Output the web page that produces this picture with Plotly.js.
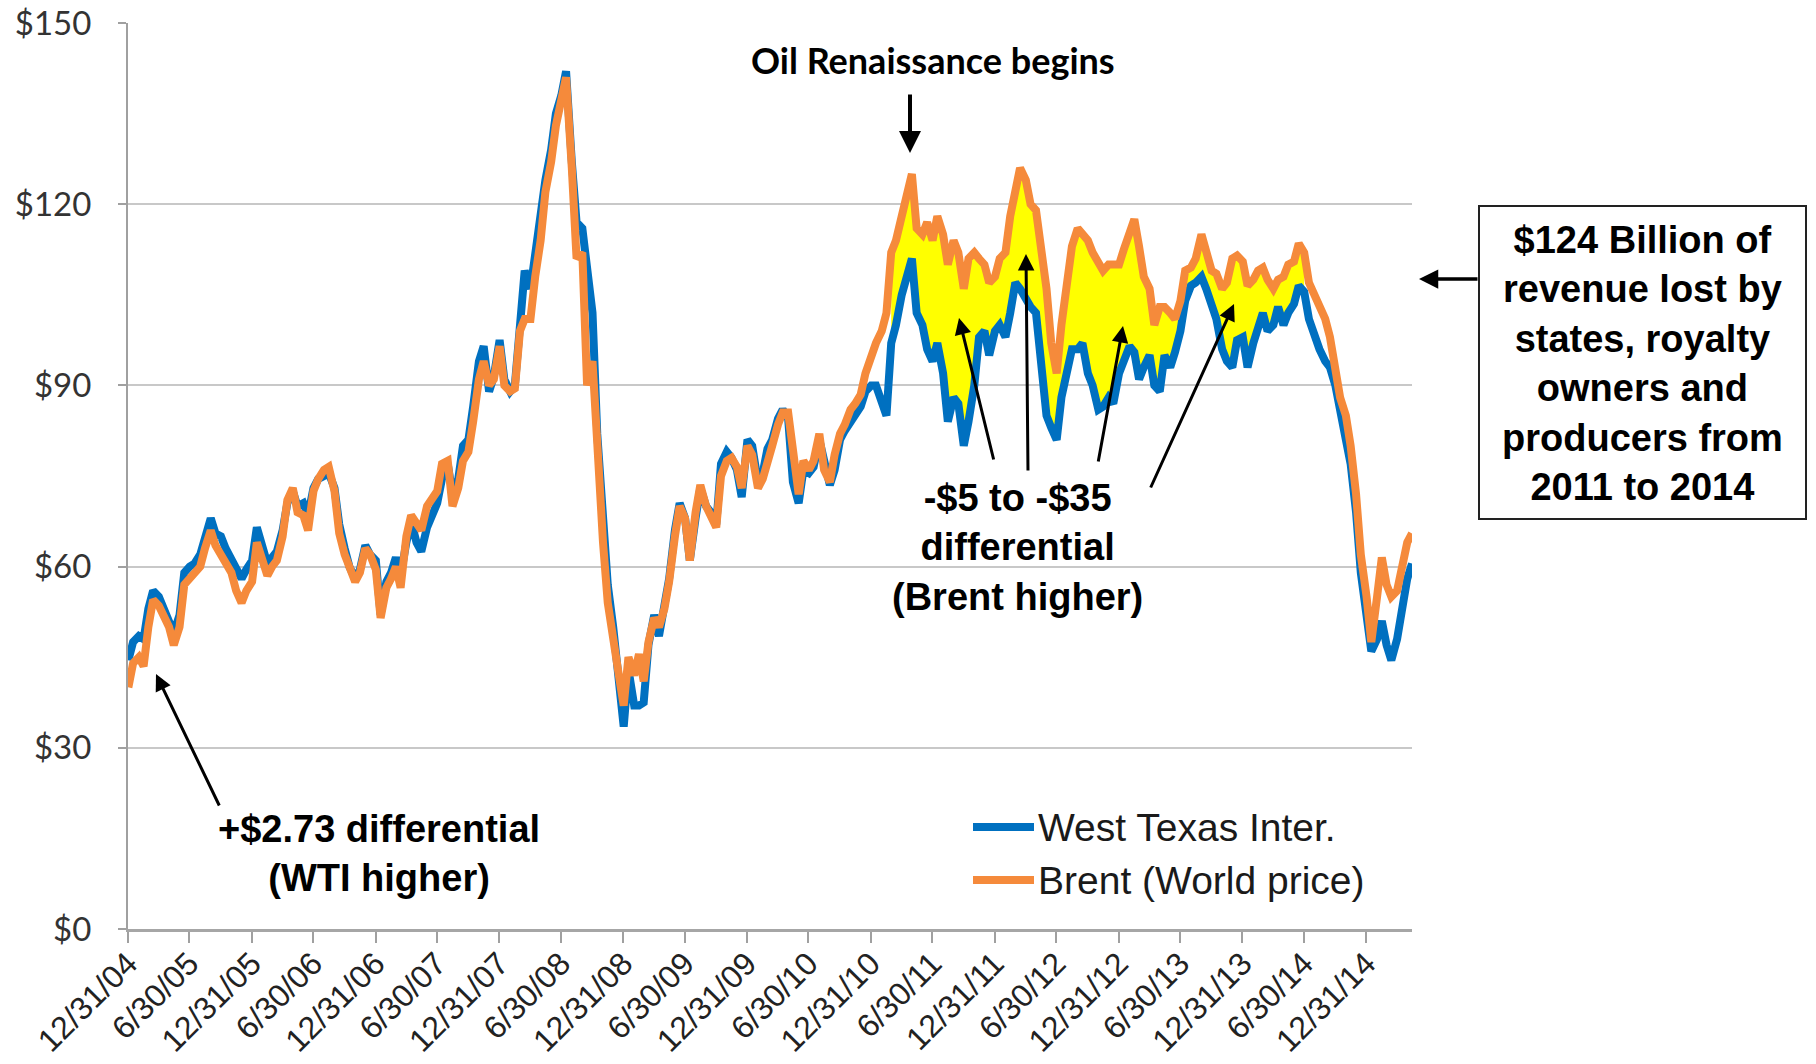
<!DOCTYPE html>
<html>
<head>
<meta charset="utf-8">
<script src="https://cdn.plot.ly/plotly-3.0.1.min.js"></script>
<style>
html,body{margin:0;padding:0;background:#ffffff;}
#chart{width:1816px;height:1064px;}
</style>
</head>
<body>
<div id="chart"></div>
<script>
// Semi-monthly readings (1st and 15th of each month), US$ per barrel
const years = [2005, 2006, 2007, 2008, 2009, 2010, 2011, 2012, 2013, 2014, 2015];

const wti2005 = [44.5, 47.5, 48.5, 48, 53, 56, 55, 53, 51, 49, 52, 59, 60, 60.5, 62, 65, 68, 65.5, 65, 63, 61, 59.5, 58, 59.5];
const wti2006 = [61, 66.5, 63, 60.5, 61.5, 62.5, 66, 70.5, 72.5, 70, 70.5, 68.5, 73, 74.5, 75, 75.5, 73, 67, 63, 60, 58, 59.5, 63.5, 62];
const wti2007 = [61, 52, 57.5, 59, 61.5, 58.5, 64, 67.5, 64, 62.5, 66.5, 68.5, 70.5, 74.5, 77, 72, 74.5, 80, 81, 86.5, 94, 96.5, 89, 91.5];
const wti2008 = [97.5, 91, 89, 90, 101, 109, 106, 112, 118, 124, 129, 135, 138, 142, 127, 117, 116, 110, 102, 82, 66, 57, 50, 41];
const wti2009 = [33.5, 43, 37, 37, 37.5, 47, 52, 48.5, 53, 58, 66, 70.5, 68, 61, 68, 73, 70, 69, 67, 77, 79, 78, 76, 71.5];
const wti2010 = [81, 80, 74, 75.5, 79.5, 81, 84.5, 86, 84.5, 74, 70.5, 76, 75.5, 76.5, 81, 77.5, 73.5, 76, 81, 82.5, 84, 85.5, 86.5, 89];
const wti2011 = [90, 90, 87, 85, 97, 100, 105, 108, 111, 102, 100, 96, 94, 97, 92, 84, 88, 87, 80, 84, 90, 98, 99, 95];
const wti2012 = [99, 100, 98, 102, 107, 106, 104, 103, 102, 94, 85, 83, 81, 88, 92, 96, 96, 97, 92, 90, 86, 86.5, 88, 87];
const wti2013 = [92, 94, 96.5, 95.5, 91, 93, 95, 90, 89, 95, 93, 95.5, 99, 104, 106.5, 107, 108, 106, 103, 101, 96, 94, 93, 97.5];
const wti2014 = [98, 93, 97, 100, 102, 99, 100, 103, 100, 102, 103.5, 106.5, 105.5, 101, 98, 96, 94, 93, 90, 85, 81, 77, 69, 59];
const wti2015 = [53, 46, 48, 51, 47, 44.5, 48, 53, 58, 60.5];

const brent2005 = [40, 44, 45, 43.5, 50, 54.5, 53.5, 52, 50, 47, 50, 57, 58, 58.5, 60, 63, 66, 63.5, 62, 60.5, 59, 56, 54, 56];
const brent2006 = [57.5, 64, 61, 58.5, 60, 61, 65, 71, 73, 69, 68.5, 66, 72.5, 74.5, 76, 76.5, 72.5, 65.5, 62, 59.5, 57.5, 59, 63, 62];
const brent2007 = [59.5, 51.5, 56.5, 58, 60, 56.5, 65, 68.5, 67, 66, 70, 71, 72.5, 77, 77.5, 70, 73, 77.5, 79, 84, 91, 94, 90, 91];
const brent2008 = [96.5, 90, 89, 89.5, 99, 101, 101, 108, 114, 122, 127, 133, 137, 141, 126, 111, 112, 90, 94, 78, 64, 54, 47, 43];
const brent2009 = [37, 45, 42, 45.5, 41, 47.5, 51.5, 50, 53, 57.5, 65, 70, 68, 61, 69, 73.5, 70, 68.5, 66.5, 75, 77.5, 78, 76.5, 73];
const brent2010 = [80, 78.5, 73, 74.5, 78, 80, 83.5, 85.5, 85.5, 78, 72, 77.5, 76, 77.5, 82, 76, 74, 78.5, 82, 83.5, 86, 87, 88.5, 92];
const brent2011 = [95, 97, 99, 102, 112, 114, 118, 122, 125, 116, 115, 117, 114, 118, 115, 110, 114, 112, 106, 111, 112, 111, 110, 107];
const brent2012 = [108, 111, 112, 118, 123, 126, 124, 120, 119, 113, 106, 97, 92, 100, 106, 113, 116, 115, 114, 112, 110, 109, 110, 110];
const brent2013 = [110, 112.5, 115, 117.5, 113, 108, 106, 100, 103, 103, 102, 101, 104, 109, 109.5, 111, 115, 112, 109, 108.5, 106, 107, 111, 111.5];
const brent2014 = [110.5, 106.5, 107.5, 109, 109.5, 107.5, 106, 107.5, 108, 110, 110.5, 113.5, 112, 107, 105, 103, 101, 98, 92, 88, 85, 80, 72, 62];
const brent2015 = [55, 47.5, 55, 61.5, 57, 55, 56, 60, 64, 65.5];

const tickDates = ['2004-12-31','2005-06-30','2005-12-31','2006-06-30','2006-12-31','2007-06-30','2007-12-31',
  '2008-06-30','2008-12-31','2009-06-30','2009-12-31','2010-06-30','2010-12-31','2011-06-30','2011-12-31',
  '2012-06-30','2012-12-31','2013-06-30','2013-12-31','2014-06-30','2014-12-31'];
const tickLabels = ['12/31/04','6/30/05','12/31/05','6/30/06','12/31/06','6/30/07','12/31/07',
  '6/30/08','12/31/08','6/30/09','12/31/09','6/30/10','12/31/10','6/30/11','12/31/11',
  '6/30/12','12/31/12','6/30/13','12/31/13','6/30/14','12/31/14'];
const yTicks = [0, 30, 60, 90, 120, 150];
const yLabels = ['$0', '$30', '$60', '$90', '$120', '$150'];

const seriesNames = ['West Texas Inter.', 'Brent (World price)'];
const gapStart = '2011-03-01', gapEnd = '2014-07-01';

// Assemble the series
const wtiByYear = [wti2005, wti2006, wti2007, wti2008, wti2009, wti2010, wti2011, wti2012, wti2013, wti2014, wti2015];
const brentByYear = [brent2005, brent2006, brent2007, brent2008, brent2009, brent2010, brent2011, brent2012, brent2013, brent2014, brent2015];
const dates = [], wti = [], brent = [];
years.forEach((yr, i) => {
  wtiByYear[i].forEach((v, j) => {
    const m = Math.floor(j / 2) + 1;
    const d = (j % 2 === 0) ? '01' : '15';
    dates.push(yr + '-' + String(m).padStart(2, '0') + '-' + d);
    wti.push(v);
    brent.push(brentByYear[i][j]);
  });
});
const gx = [], gw = [], gb = [];
dates.forEach((d, i) => {
  if (d >= gapStart && d <= gapEnd) { gx.push(d); gw.push(wti[i]); gb.push(brent[i]); }
});

const BLUE = '#0070C0', ORANGE = '#F58A3B', YELLOW = '#FFFF00';

const traces = [
  {x: gx, y: gw, type: 'scatter', mode: 'lines', line: {width: 0, color: BLUE}, hoverinfo: 'skip', showlegend: false},
  {x: gx, y: gb, type: 'scatter', mode: 'lines', fill: 'tonexty', fillcolor: YELLOW, line: {width: 0, color: ORANGE}, hoverinfo: 'skip', showlegend: false},
  {x: dates, y: wti, name: seriesNames[0], type: 'scatter', mode: 'lines', line: {color: BLUE, width: 8}},
  {x: dates, y: brent, name: seriesNames[1], type: 'scatter', mode: 'lines', line: {color: ORANGE, width: 8}}
];

const L = 128, R = 404, T = 23, B = 135, W = 1816, H = 1064;
const PW = W - L - R, PH = H - T - B;
const px = x => (x - L) / PW;     // pixel -> paper
const py = y => (H - B - y) / PH;

const boldArial = {family: 'Liberation Sans, Arial, sans-serif', size: 38, color: '#000'};
function arrow(hx, hy, tx, ty, w) {
  return {xref: 'paper', yref: 'paper', x: px(hx), y: py(hy), ax: tx - hx, ay: ty - hy,
    axref: 'pixel', ayref: 'pixel', text: '', showarrow: true, arrowhead: 2, arrowsize: 1.1,
    arrowwidth: w || 3, arrowcolor: '#000', standoff: 0, startstandoff: 0};
}

const annotations = [
  {xref: 'paper', yref: 'paper', x: px(933), y: py(60), text: '<b>Oil Renaissance begins</b>', showarrow: false,
    xanchor: 'center', yanchor: 'middle', font: {family: 'Lato, sans-serif', size: 36, color: '#000'}},
  arrow(910, 153, 910, 93, 4),
  {xref: 'paper', yref: 'paper', x: px(1017), y: py(547), text: '<b>-$5 to -$35<br>differential<br>(Brent higher)</b>',
    showarrow: false, xanchor: 'center', yanchor: 'middle', align: 'center', font: boldArial},
  arrow(959, 318, 994, 461),
  arrow(1026, 254, 1028, 472),
  arrow(1123, 326, 1098, 463),
  arrow(1234, 304, 1150, 489),
  {xref: 'paper', yref: 'paper', x: px(379), y: py(853), text: '<b>+$2.73 differential<br>(WTI higher)</b>',
    showarrow: false, xanchor: 'center', yanchor: 'middle', align: 'center', font: boldArial},
  arrow(156, 674, 220, 807),
  {xref: 'paper', yref: 'paper', x: px(1642), y: py(363),
    text: '<b>$124 Billion of<br>revenue lost by<br>states, royalty<br>owners and<br>producers from<br>2011 to 2014</b>',
    showarrow: false, xanchor: 'center', yanchor: 'middle', align: 'center', font: boldArial},
  arrow(1419, 279, 1479, 279, 3.5),
  {xref: 'paper', yref: 'paper', x: px(1036), y: py(827), text: seriesNames[0], showarrow: false,
    xanchor: 'left', yanchor: 'middle', font: {family: 'Liberation Sans, Arial, sans-serif', size: 39, color: '#1a1a1a'}},
  {xref: 'paper', yref: 'paper', x: px(1036), y: py(880), text: seriesNames[1], showarrow: false,
    xanchor: 'left', yanchor: 'middle', font: {family: 'Liberation Sans, Arial, sans-serif', size: 39, color: '#1a1a1a'}}
];

const shapes = [
  {type: 'rect', xref: 'paper', yref: 'paper', x0: px(1479), x1: px(1806), y0: py(519), y1: py(206),
    line: {color: '#222', width: 2}, fillcolor: 'rgba(0,0,0,0)'},
  {type: 'line', xref: 'paper', yref: 'paper', x0: px(973), x1: px(1034), y0: py(827), y1: py(827),
    line: {color: BLUE, width: 8}},
  {type: 'line', xref: 'paper', yref: 'paper', x0: px(973), x1: px(1034), y0: py(880), y1: py(880),
    line: {color: ORANGE, width: 8}}
];

const layout = {
  width: W, height: H, autosize: false,
  margin: {l: L, r: R, t: T, b: B, pad: 0},
  paper_bgcolor: '#fff', plot_bgcolor: '#fff',
  showlegend: false,
  xaxis: {
    type: 'date', range: ['2004-12-31', '2015-05-15'],
    tickmode: 'array', tickvals: tickDates, ticktext: tickLabels, tickangle: -45,
    ticks: 'outside', ticklen: 11, tickwidth: 2, tickcolor: '#a0a0a0', ticklabelstandoff: -11,
    showgrid: false, zeroline: false, showline: true, linecolor: '#a6a6a6', linewidth: 3,
    tickfont: {family: 'Liberation Sans, Arial, sans-serif', size: 32, color: '#222'}
  },
  yaxis: {
    range: [0, 150], tickmode: 'array', tickvals: yTicks, ticktext: yLabels,
    ticks: 'outside', ticklen: 8, tickwidth: 2, tickcolor: '#a0a0a0', ticklabelstandoff: 20,
    showgrid: true, gridcolor: '#c8c8c8', gridwidth: 2, zeroline: false,
    showline: true, linecolor: '#a0a0a0', linewidth: 2,
    tickfont: {family: 'Lato, Liberation Sans, sans-serif', size: 33, color: '#333'}
  },
  annotations: annotations,
  shapes: shapes
};

Plotly.newPlot('chart', traces, layout, {displayModeBar: false, staticPlot: true});
</script>
</body>
</html>
